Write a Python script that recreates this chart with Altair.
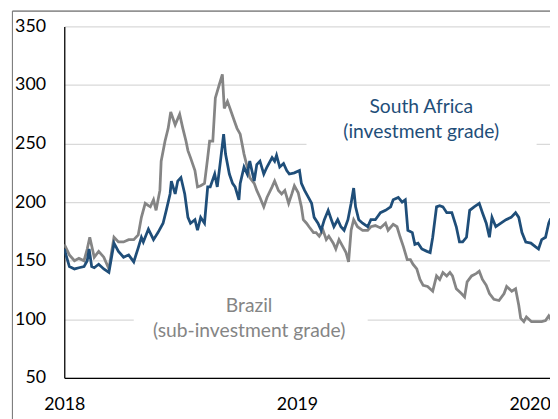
import altair as alt
import pandas as pd

# Days since 2018-01-01 and spread values
sa_days = [0, 8, 16, 23, 31, 36, 39, 43, 47, 54, 62, 70, 78, 85, 93, 101, 109, 116, 121, 124,
           132, 140, 147, 155, 160, 166, 168, 174, 178, 183, 189, 194, 198, 205, 209, 214, 220, 225, 229, 236,
           240, 245, 250, 253, 259, 264, 268, 274, 276, 282, 287, 291, 298, 302, 307, 313, 318, 326, 330, 333,
           338, 344, 349, 353, 361, 369, 372, 377, 383, 388, 392, 398, 403, 408, 414, 419, 423, 429, 434, 439,
           445, 450, 454, 457, 462, 468, 476, 481, 488, 496, 504, 512, 516, 524, 530, 535, 539, 546, 550, 555,
           561, 569, 574, 578, 584, 589, 594, 600, 608, 615, 620, 625, 631, 636, 643, 651, 656, 662, 667, 671,
           677, 685, 693, 701, 708, 713, 718, 724, 732, 739, 744, 749, 755, 760, 763]
sa_vals = [160, 145, 143, 144, 145, 150, 160, 145, 144, 147, 143, 140, 165, 158, 153, 155, 149, 161, 170, 166,
           177, 168, 174, 182, 193, 207, 218, 207, 218, 221, 207, 187, 182, 185, 176, 187, 182, 213, 213, 224,
           213, 235, 258, 241, 224, 216, 213, 202, 216, 230, 224, 235, 218, 232, 235, 224, 230, 238, 235, 240,
           230, 233, 227, 224, 225, 227, 216, 210, 204, 199, 187, 182, 176, 185, 193, 185, 179, 185, 179, 176,
           185, 199, 212, 196, 185, 182, 179, 185, 185, 191, 193, 196, 202, 204, 200, 202, 176, 174, 164, 165,
           160, 158, 157, 170, 196, 197, 196, 191, 191, 179, 166, 166, 170, 193, 196, 199, 191, 182, 170, 187,
           179, 182, 185, 187, 191, 187, 174, 166, 165, 162, 160, 168, 170, 182, 186]

br_days = [0, 8, 16, 23, 31, 36, 40, 47, 54, 62, 70, 78, 85, 93, 101, 109, 116, 121, 127, 132,
           135, 140, 144, 150, 152, 158, 163, 167, 174, 181, 186, 191, 194, 198, 205, 209, 214, 220, 225, 228,
           233, 237, 243, 248, 251, 256, 260, 267, 271, 276, 282, 287, 291, 298, 302, 307, 313, 318, 326, 330,
           336, 341, 346, 352, 357, 361, 367, 372, 375, 380, 384, 391, 395, 400, 406, 411, 415, 422, 426, 431,
           437, 442, 446, 450, 454, 460, 468, 476, 481, 488, 496, 504, 508, 516, 522, 527, 532, 538, 543, 547,
           553, 558, 563, 570, 578, 584, 589, 594, 600, 605, 609, 615, 623, 628, 632, 639, 646, 651, 656, 662,
           667, 674, 682, 690, 694, 702, 708, 713, 716, 721, 725, 733, 741, 749, 755, 760, 763]
br_vals = [164, 155, 150, 152, 150, 160, 170, 153, 158, 153, 143, 170, 166, 166, 168, 168, 172, 187, 199, 197,
           196, 202, 193, 210, 235, 252, 263, 277, 266, 275, 263, 252, 244, 238, 227, 213, 214, 216, 238, 252,
           252, 289, 300, 309, 280, 286, 280, 269, 263, 258, 241, 230, 221, 216, 210, 204, 196, 204, 213, 218,
           210, 207, 210, 199, 207, 214, 208, 196, 185, 182, 179, 174, 174, 171, 176, 168, 171, 165, 160, 168,
           162, 157, 149, 176, 185, 179, 176, 176, 179, 180, 178, 182, 176, 181, 179, 170, 162, 151, 151, 147,
           143, 134, 129, 128, 124, 137, 134, 140, 137, 140, 137, 126, 122, 119, 132, 137, 139, 141, 134, 129,
           122, 117, 116, 122, 128, 124, 126, 112, 101, 98, 102, 98, 98, 98, 99, 103, 100]

series_names = ["South Africa", "Brazil"]
series_colors = ["#1f4e79", "#858585"]
label_lines = [["South Africa", "(investment grade)"], ["Brazil", "(sub-investment grade)"]]
y_ticks = [50, 100, 150, 200, 250, 300, 350]
x_years = [2018, 2019, 2020]

base = pd.Timestamp("2018-01-01")
def to_dates(days):
    return base + pd.to_timedelta(days, unit="D")

df = pd.concat([
    pd.DataFrame({"date": to_dates(sa_days), "value": sa_vals, "series": series_names[0]}),
    pd.DataFrame({"date": to_dates(br_days), "value": br_vals, "series": series_names[1]}),
])

# label annotations (in data coordinates)
labels = pd.DataFrame({
    "date": to_dates([560, 560, 290, 290]),
    "value": [281, 259.5, 111.5, 89.6],
    "text": [label_lines[0][0], label_lines[0][1], label_lines[1][0], label_lines[1][1]],
    "series": [series_names[0], series_names[0], series_names[1], series_names[1]],
})
boxes = pd.DataFrame({
    "start": to_dates([380, 109]),
    "end": to_dates([741, 476]),
    "lo": [247, 80],
    "hi": [293, 122],
})

W, H = 492, 356
FONT = "Lato"

x_scale = alt.Scale(domain=[alt.DateTime(year=2018, month=1, date=1),
                            alt.DateTime(year=2020, month=2, date=2)])
y_scale = alt.Scale(domain=[50, 350], nice=False, zero=False)
color_scale = alt.Scale(domain=series_names, range=series_colors)

x_axis = alt.Axis(values=[alt.DateTime(year=y, month=1, date=1) for y in x_years], format="%Y",
                  title=None, grid=False, ticks=False, labelFlush=False, labelPadding=18,
                  domainColor="#000000", domainWidth=1.3, labelFont=FONT, labelFontSize=18,
                  labelColor="#000000")
y_axis = alt.Axis(values=y_ticks, title=None, grid=True, gridColor="#d9d9d9", gridWidth=1.2,
                  ticks=False, labelPadding=19, domainColor="#000000", domainWidth=1.3,
                  labelFont=FONT, labelFontSize=18, labelColor="#000000")

rects = alt.Chart(boxes).mark_rect(color="white").encode(
    x=alt.X("start:T", scale=x_scale, axis=x_axis),
    x2="end:T",
    y=alt.Y("lo:Q", scale=y_scale, axis=y_axis),
    y2="hi:Q",
)

lines = alt.Chart(df).mark_line(strokeWidth=2.8, clip=True).encode(
    x=alt.X("date:T", scale=x_scale),
    y=alt.Y("value:Q", scale=y_scale),
    color=alt.Color("series:N", scale=color_scale, legend=None),
    order=alt.Order("date:T"),
    detail="series:N",
)
# draw Brazil first, then South Africa on top
lines_br = lines.transform_filter(alt.datum.series == series_names[1])
lines_sa = lines.transform_filter(alt.datum.series == series_names[0])

texts = alt.Chart(labels).mark_text(font=FONT, fontSize=19.5, align="center", baseline="middle").encode(
    x=alt.X("date:T", scale=x_scale),
    y=alt.Y("value:Q", scale=y_scale),
    text="text:N",
    color=alt.Color("series:N", scale=color_scale, legend=None),
)

frame_v = alt.Chart(boxes).mark_rule(color="#7f7f7f", strokeWidth=1).encode(
    x=alt.value(-52.5), y=alt.value(-15.5), y2=alt.value(H + 60))
frame_h = alt.Chart(boxes).mark_rule(color="#7f7f7f", strokeWidth=1).encode(
    x=alt.value(-52.5), x2=alt.value(W + 20), y=alt.value(-15.5))

chart = alt.layer(rects, lines_br, lines_sa, texts, frame_v, frame_h).properties(
    width=W, height=H,
    autosize=alt.AutoSizeParams(type="none"),
    padding={"left": 57, "top": 16, "right": 0, "bottom": 39},
).configure_view(stroke=None)

chart.save("out.html", embed_options={"renderer": "svg", "actions": False})
